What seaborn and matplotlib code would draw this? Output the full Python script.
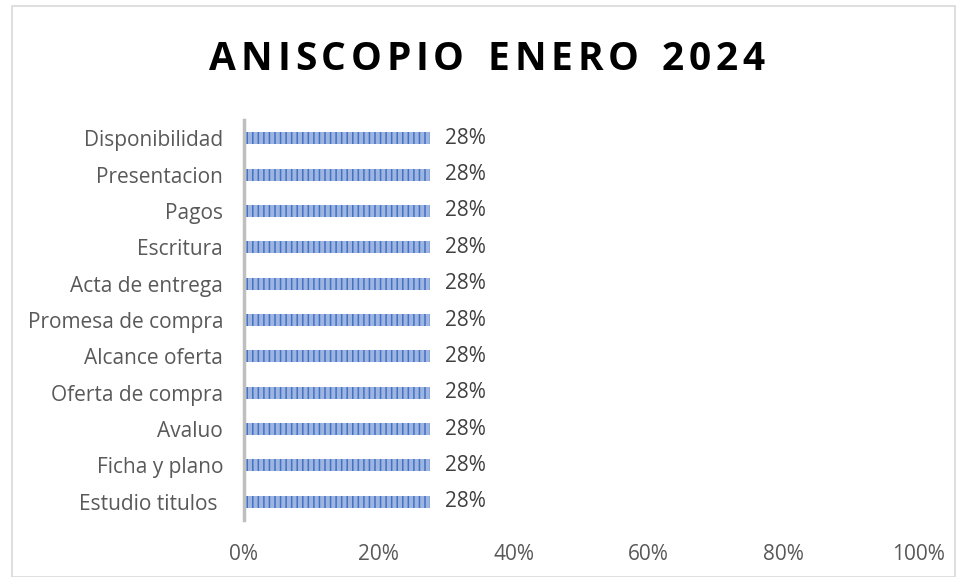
import matplotlib
matplotlib.use("Agg")
import matplotlib.pyplot as plt
import seaborn as sns
import pandas as pd
from matplotlib.patches import Rectangle
from matplotlib.ticker import PercentFormatter

# Chart data
categories = ["Disponibilidad", "Presentacion", "Pagos", "Escritura", "Acta de entrega",
              "Promesa de compra", "Alcance oferta", "Oferta de compra", "Avaluo",
              "Ficha y plano", "Estudio titulos "]
values = [0.276, 0.276, 0.276, 0.276, 0.276, 0.276, 0.276, 0.276, 0.276, 0.276, 0.276]
value_labels = ["28%"] * 11
x_ticks = [0, 0.2, 0.4, 0.6, 0.8, 1.0]
title = "ANISCOPIO ENERO 2024"

df = pd.DataFrame({"etapa": categories, "valor": values})

sns.set_style("white")
plt.rcParams["font.family"] = ["Open Sans", "DejaVu Sans"]
plt.rcParams["hatch.linewidth"] = 1.1
plt.rcParams["hatch.color"] = "#4472C4"

fig = plt.figure(figsize=(9.56, 5.77), dpi=100)
ax = fig.add_axes([244 / 956, 1 - 520 / 577, (918 - 244) / 956, 400 / 577])

sns.barplot(data=df, x="valor", y="etapa", orient="h", width=0.33,
            color="#9DB5E0", ax=ax, saturation=1)
for p in ax.patches:
    p.set_hatch("|||")
    p.set_edgecolor("#4472C4")
    p.set_linewidth(0)

for i, (v, lab) in enumerate(zip(values, value_labels)):
    ax.text(v + 0.022, i, lab, va="center", ha="left", fontsize=15, color="#404040")

ax.set_xlim(0, 1.0)
ax.set_ylim(len(categories) - 0.5, -0.5)
ax.set_xticks(x_ticks)
ax.xaxis.set_major_formatter(PercentFormatter(1.0, decimals=0))
ax.set_xlabel("")
ax.set_ylabel("")
ax.tick_params(axis="both", length=0, labelsize=15, labelcolor="#595959")
ax.tick_params(axis="y", pad=15)
ax.tick_params(axis="x", pad=17)

for s in ["top", "right", "bottom"]:
    ax.spines[s].set_visible(False)
ax.spines["left"].set_color("#BFBFBF")
ax.spines["left"].set_linewidth(2.5)

# title with wide letter spacing, laid out one character at a time
fig.canvas.draw()
renderer = fig.canvas.get_renderer()
tracking = 4.8
widths = []
for ch in title:
    t = fig.text(0, 0, ch if ch != " " else "n", fontsize=28, fontweight="bold")
    bb = t.get_window_extent(renderer)
    widths.append(bb.width * (0.55 if ch == " " else 1.0))
    t.remove()
total = sum(widths) + tracking * (len(title) - 1)
x = 487 - total / 2
for ch, w in zip(title, widths):
    if ch != " ":
        fig.text(x / 956, 1 - 59 / 577, ch, fontsize=28, fontweight="bold",
                 color="black", ha="left", va="center")
    x += w + tracking

fig.patches.append(Rectangle((12 / 956, 0), 1 - 12 / 956 - 1 / 956, 1 - 6 / 577,
                             transform=fig.transFigure, fill=False,
                             edgecolor="#D9D9D9", linewidth=1.2))

fig.savefig("out.png", dpi=100)
